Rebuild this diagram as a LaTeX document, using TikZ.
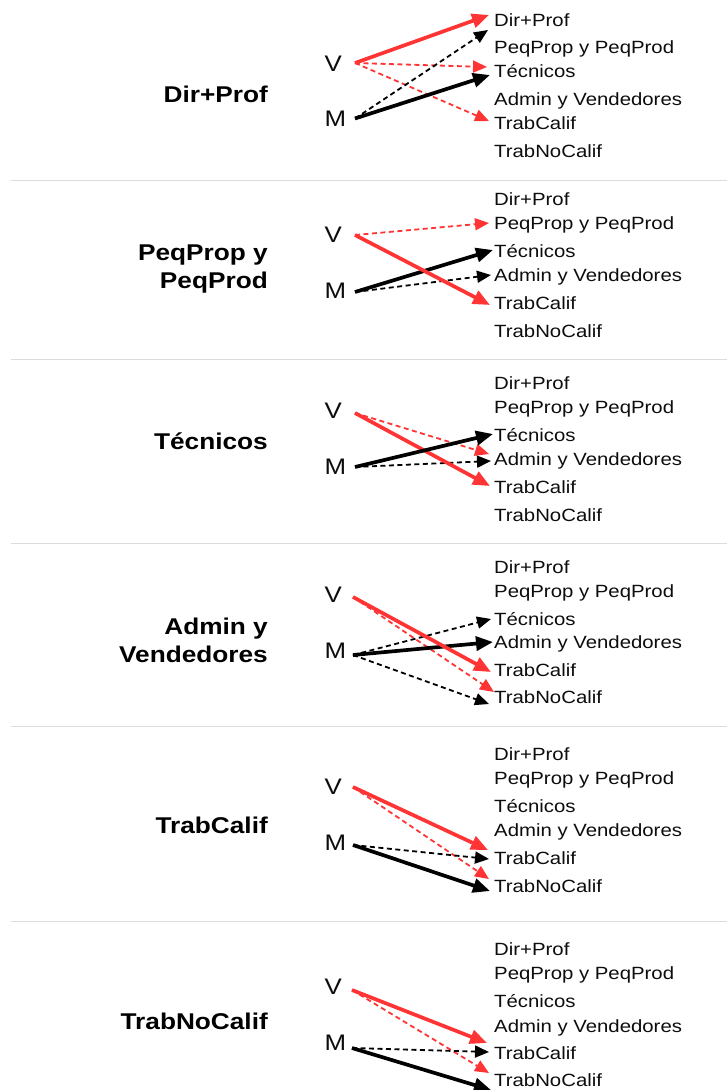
\documentclass[tikz,border=0pt]{standalone}
\usepackage{fontspec}
\setmainfont{Liberation Sans}[FakeStretch=1.15]
\usetikzlibrary{arrows.meta}
\definecolor{rd}{HTML}{FF3535}
\definecolor{sepc}{HTML}{DCDCDC}
\tikzset{
  lab/.style={anchor=base west, font=\fontsize{17.7}{20}\selectfont, inner sep=0pt, text=black!95},
  vm/.style={anchor=base west, font=\fontsize{22.5}{24}\selectfont, inner sep=0pt, text=black!95},
  ttl/.style={align=right, font=\bfseries\fontsize{22.8}{27.8}\selectfont, inner sep=0pt},
  solarr/.style={line width=3.7pt, -{Triangle[length=17pt,width=14pt]}},
  dsharr/.style={line width=1.8pt, dash pattern=on 5pt off 3.5pt, -{Triangle[length=14pt,width=12pt]}},
  rsol/.style={solarr, draw=rd, rd},
  rdsh/.style={dsharr, draw=rd, rd},
  bsol/.style={solarr, draw=black, black},
  bdsh/.style={dsharr, draw=black, black},
  sepline/.style={draw=sepc, line width=1pt}
}
\newcommand\rlabels[7]{%
  \node[lab] (#1a) at (494,#2) {Dir+Prof};
  \node[lab] (#1b) at (494,#3) {PeqProp y PeqProd};
  \node[lab] (#1c) at (494,#4) {Técnicos};
  \node[lab] (#1d) at (494,#5) {Admin y Vendedores};
  \node[lab] (#1e) at (494,#6) {TrabCalif};
  \node[lab] (#1f) at (494,#7) {TrabNoCalif};
}
\newcommand\vmnodes[3]{%
  \node[vm] (#1V) at (324.5,#2) {V};
  \node[vm] (#1M) at (324.5,#3) {M};
}
\begin{document}
\begin{tikzpicture}[x=1pt,y=-1pt]
\useasboundingbox[fill=white] (0,0) rectangle (727,1090);

% separators
\draw[sepline] (11,180) -- (727,180);
\draw[sepline] (11,359) -- (727,359);
\draw[sepline] (11,543) -- (727,543);
\draw[sepline] (11,726) -- (727,726);
\draw[sepline] (11,921) -- (727,921);

% ---------- panel 1
\node[ttl, anchor=base east] (t1) at (268,102) {Dir+Prof};
\vmnodes{p1}{71}{126.5}
\rlabels{p1}{26}{53.3}{77.5}{105.2}{129.3}{157.2}
\coordinate (p1v) at (355,63);
\coordinate (p1m) at (355,118.5);
\coordinate (p1t1) at (489,15);
\coordinate (p1t2) at (488,30);
\coordinate (p1t3) at (487,67);
\coordinate (p1t4) at (490,75);
\coordinate (p1t5) at (489,121);
\draw[rdsh] (p1v) -- (p1t3);
\draw[rdsh] (p1v) -- (p1t5);
\draw[bdsh] (p1m) -- (p1t2);
\draw[rsol] (p1v) -- (p1t1);
\draw[bsol] (p1m) -- (p1t4);

% ---------- panel 2
\node[ttl, anchor=east] (t2) at (268,269) {PeqProp y\\PeqProd};
\vmnodes{p2}{242}{298}
\rlabels{p2}{205.5}{229.5}{257.5}{281.5}{309.5}{337.5}
\coordinate (p2v) at (355,235);
\coordinate (p2m) at (355,292);
\coordinate (p2t1) at (489,223);
\coordinate (p2t2) at (490,305);
\coordinate (p2t3) at (493,250);
\coordinate (p2t4) at (491,275);
\draw[rdsh] (p2v) -- (p2t1);
\draw[bdsh] (p2m) -- (p2t4);
\draw[bsol] (p2m) -- (p2t3);
\draw[rsol] (p2v) -- (p2t2);

% ---------- panel 3
\node[ttl, anchor=base east] (t3) at (268,449) {Técnicos};
\vmnodes{p3}{418}{474}
\rlabels{p3}{389.5}{413.5}{441.5}{465.5}{493.5}{521.5}
\coordinate (p3v) at (355,413);
\coordinate (p3m) at (355,467);
\coordinate (p3t1) at (489,454);
\coordinate (p3t2) at (490,486);
\coordinate (p3t3) at (493,434);
\coordinate (p3t4) at (491,461);
\draw[rdsh] (p3v) -- (p3t1);
\draw[bdsh] (p3m) -- (p3t4);
\draw[rsol] (p3v) -- (p3t2);
\draw[bsol] (p3m) -- (p3t3);

% ---------- panel 4
\node[ttl, anchor=east] (t4) at (268,640) {Admin y\\Vendedores};
\vmnodes{p4}{602}{658}
\rlabels{p4}{573.3}{597}{625}{648.3}{676}{703.5}
\coordinate (p4v) at (353,597);
\coordinate (p4m) at (353,655);
\coordinate (p4t1) at (491,672);
\coordinate (p4t2) at (494,692);
\coordinate (p4t3) at (491,619);
\coordinate (p4t4) at (493,642);
\coordinate (p4t5) at (489,704);
\draw[rdsh] (p4v) -- (p4t2);
\draw[bdsh] (p4m) -- (p4t3);
\draw[bdsh] (p4m) -- (p4t5);
\draw[bsol] (p4m) -- (p4t4);
\draw[rsol] (p4v) -- (p4t1);

% ---------- panel 5
\node[ttl, anchor=base east] (t5) at (268,833) {TrabCalif};
\vmnodes{p5}{794}{850}
\rlabels{p5}{760.5}{784.5}{812.5}{836.5}{864.5}{892.5}
\coordinate (p5v) at (353,787);
\coordinate (p5m) at (353,845);
\coordinate (p5t1) at (488,850);
\coordinate (p5t2) at (489,879);
\coordinate (p5t3) at (489,859);
\coordinate (p5t4) at (490,891);
\draw[rdsh] (p5v) -- (p5t2);
\draw[bdsh] (p5m) -- (p5t3);
\draw[rsol] (p5v) -- (p5t1);
\draw[bsol] (p5m) -- (p5t4);

% ---------- panel 6
\node[ttl, anchor=base east] (t6) at (268,1029) {TrabNoCalif};
\vmnodes{p6}{994}{1050}
\rlabels{p6}{955.8}{979.8}{1007.2}{1032.5}{1059.5}{1086.5}
\coordinate (p6v) at (352,990);
\coordinate (p6m) at (352,1048);
\coordinate (p6t1) at (487,1043);
\coordinate (p6t2) at (489,1073);
\coordinate (p6t3) at (489,1052);
\coordinate (p6t4) at (491,1090);
\draw[rdsh] (p6v) -- (p6t2);
\draw[bdsh] (p6m) -- (p6t3);
\draw[rsol] (p6v) -- (p6t1);
\draw[bsol] (p6m) -- (p6t4);
\end{tikzpicture}
\end{document}
